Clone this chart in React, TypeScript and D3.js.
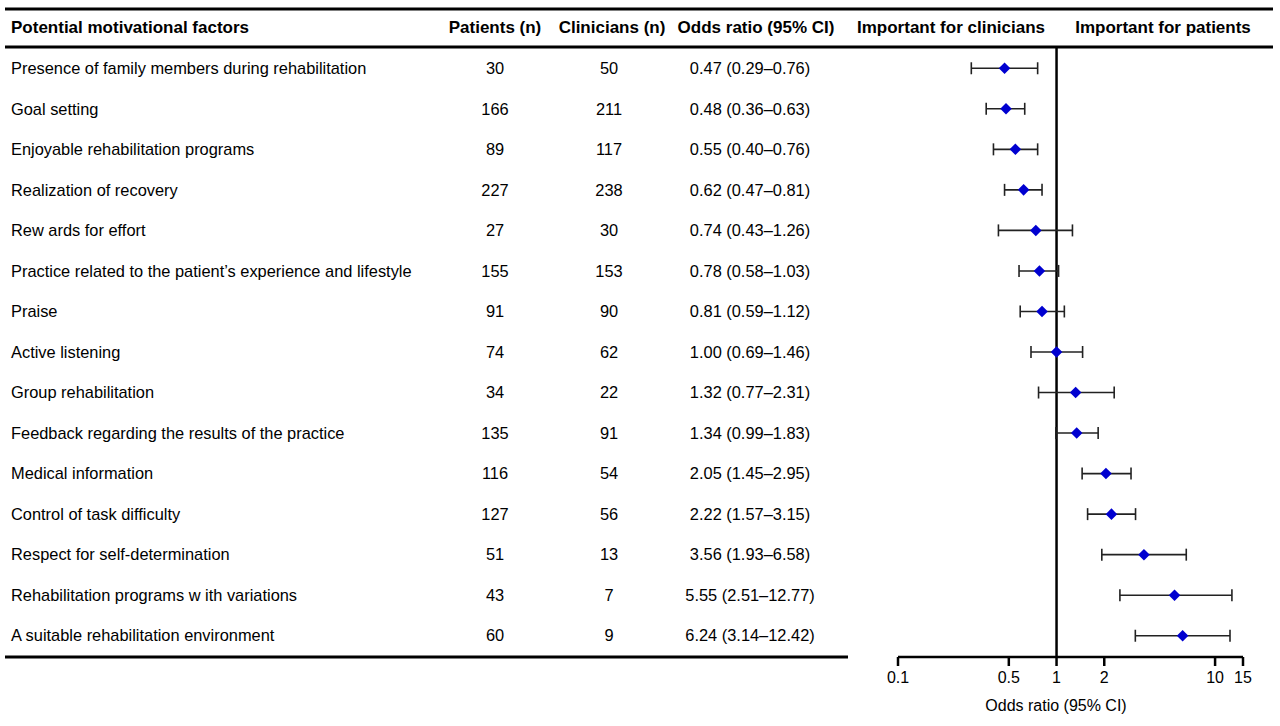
import React from "react";
import * as d3 from "d3";

const factors = [
  "Presence of family members during rehabilitation",
  "Goal setting",
  "Enjoyable rehabilitation programs",
  "Realization of recovery",
  "Rew ards for effort",
  "Practice related to the patient\u2019s experience and lifestyle",
  "Praise",
  "Active listening",
  "Group rehabilitation",
  "Feedback regarding the results of the practice",
  "Medical information",
  "Control of task difficulty",
  "Respect for self-determination",
  "Rehabilitation programs w ith variations",
  "A suitable rehabilitation environment",
];
const patients = [30, 166, 89, 227, 27, 155, 91, 74, 34, 135, 116, 127, 51, 43, 60];
const clinicians = [50, 211, 117, 238, 30, 153, 90, 62, 22, 91, 54, 56, 13, 7, 9];
const oddsRatio = [0.47, 0.48, 0.55, 0.62, 0.74, 0.78, 0.81, 1.0, 1.32, 1.34, 2.05, 2.22, 3.56, 5.55, 6.24];
const ciLow = [0.29, 0.36, 0.40, 0.47, 0.43, 0.58, 0.59, 0.69, 0.77, 0.99, 1.45, 1.57, 1.93, 2.51, 3.14];
const ciHigh = [0.76, 0.63, 0.76, 0.81, 1.26, 1.03, 1.12, 1.46, 2.31, 1.83, 2.95, 3.15, 6.58, 12.77, 12.42];
const axisTicks = [0.1, 0.5, 1, 2, 10, 15];

const FONT = "'Liberation Sans', Arial, sans-serif";

export default function App() {
  const W = 1280;
  const H = 726;
  const x = d3.scaleLog().domain([0.1, 15]).range([898, 1243]);
  const y = d3
    .scaleBand<number>()
    .domain(d3.range(factors.length))
    .range([48, 656])
    .paddingInner(0)
    .paddingOuter(0);
  const yc = (i: number) => (y(i) as number) + y.bandwidth() / 2;
  const fmt = d3.format(".2f");
  const axisY = 657;
  const diamond = d3.symbol().type(d3.symbolDiamond2).size(85)();

  return (
    <svg
      width={W}
      height={H}
      style={{ position: "absolute", left: 0, top: 0, background: "#fff" }}
      fontFamily={FONT}
    >
      <rect width={W} height={H} fill="#fff" />
      {/* table rules */}
      <line x1={5} x2={1273} y1={9} y2={9} stroke="#000" strokeWidth={3} />
      <line x1={5} x2={1273} y1={47} y2={47} stroke="#000" strokeWidth={3} />
      <line x1={5} x2={848} y1={657} y2={657} stroke="#000" strokeWidth={3} />

      {/* headers */}
      <g fontSize={17} fontWeight="bold" fill="#000">
        <text x={11} y={33}>Potential motivational factors</text>
        <text x={495} y={33} textAnchor="middle">Patients (n)</text>
        <text x={612} y={33} textAnchor="middle">Clinicians (n)</text>
        <text x={756} y={33} textAnchor="middle">Odds ratio (95% CI)</text>
        <text x={951} y={33} textAnchor="middle">Important for clinicians</text>
        <text x={1163} y={33} textAnchor="middle">Important for patients</text>
      </g>

      {/* rows */}
      <g fontSize={16.4} fill="#000">
        {factors.map((f, i) => (
          <g key={i}>
            <text x={11} y={yc(i)} dy="0.35em">{f}</text>
            <text x={495} y={yc(i)} dy="0.35em" textAnchor="middle">{patients[i]}</text>
            <text x={609} y={yc(i)} dy="0.35em" textAnchor="middle">{clinicians[i]}</text>
            <text x={750} y={yc(i)} dy="0.35em" textAnchor="middle">
              {`${fmt(oddsRatio[i])} (${fmt(ciLow[i])}\u2013${fmt(ciHigh[i])})`}
            </text>
          </g>
        ))}
      </g>

      {/* reference line at OR = 1 */}
      <line x1={x(1)} x2={x(1)} y1={47} y2={axisY} stroke="#000" strokeWidth={2.5} />

      {/* error bars and points */}
      {factors.map((_, i) => {
        const cy = yc(i);
        return (
          <g key={i}>
            <line x1={x(ciLow[i])} x2={x(ciHigh[i])} y1={cy} y2={cy} stroke="#222" strokeWidth={1.6} />
            <line x1={x(ciLow[i])} x2={x(ciLow[i])} y1={cy - 6} y2={cy + 6} stroke="#222" strokeWidth={1.6} />
            <line x1={x(ciHigh[i])} x2={x(ciHigh[i])} y1={cy - 6} y2={cy + 6} stroke="#222" strokeWidth={1.6} />
            <path d={diamond as string} transform={`translate(${x(oddsRatio[i])},${cy})`} fill="#0000d0" />
          </g>
        );
      })}

      {/* axis */}
      <line x1={x(0.1)} x2={x(15)} y1={axisY} y2={axisY} stroke="#000" strokeWidth={2.5} />
      {axisTicks.map((t) => (
        <g key={t}>
          <line x1={x(t)} x2={x(t)} y1={axisY} y2={axisY + 9} stroke="#000" strokeWidth={2.5} />
          <text x={x(t)} y={axisY + 26} fontSize={16} textAnchor="middle" fill="#000">
            {String(t)}
          </text>
        </g>
      ))}
      <text x={1056} y={711} fontSize={16} textAnchor="middle" fill="#000">
        Odds ratio (95% CI)
      </text>
    </svg>
  );
}
